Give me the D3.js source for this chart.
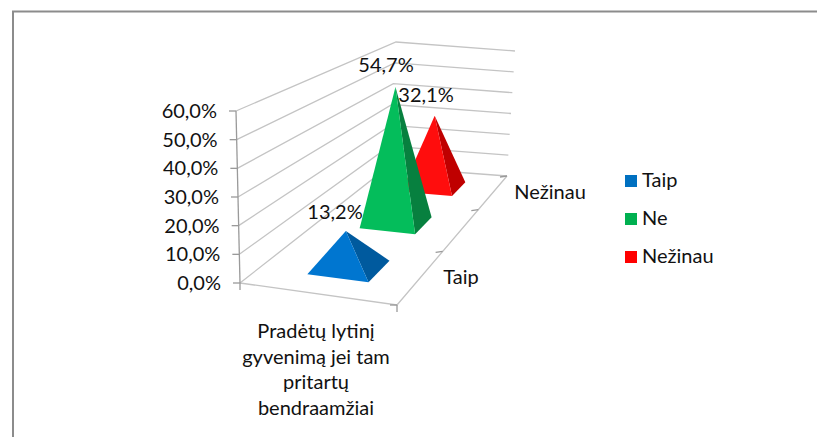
<!DOCTYPE html>
<html><head><meta charset="utf-8">
<script src="https://cdn.jsdelivr.net/npm/d3@7"></script>
<style>html,body{margin:0;background:#fff}svg{display:block}text{font-family:Lato,"Open Sans",sans-serif;fill:#111}</style>
</head><body><svg id="c" width="817" height="437"></svg>
<script>
const seriesNames = ["Taip","Ne","Nežinau"];
const seriesValues = [13.2,54.7,32.1];
const seriesLabels = ["13,2%","54,7%","32,1%"];
const seriesFront = ["#0076d0","#04bd5b","#ff0d0d"];
const seriesSide = ["#005a9e","#07803f","#bf0000"];
const legendColors = ["#0070c0","#00b050","#ff0000"];
const valueTicks = [0,10,20,30,40,50,60];
const depthLabels = ["Taip","Nežinau"];
const categoryLines = ["Pradėtų lytinį","gyvenimą jei tam","pritartų","bendraamžiai"];

const svg = d3.select("#c");
svg.append("path").attr("d","M13,437V11.5H817").attr("fill","none").attr("stroke","#8c8c8c").attr("stroke-width",2);

// Chart-box projection: floor corners found on the picture
const FL=[240,283],FR=[397,305],BR=[507,176],BL=[388,167];
function homography(p0,p1,p2,p3){
  const dx1=p1[0]-p2[0],dx2=p3[0]-p2[0],sx=p0[0]-p1[0]+p2[0]-p3[0];
  const dy1=p1[1]-p2[1],dy2=p3[1]-p2[1],sy=p0[1]-p1[1]+p2[1]-p3[1];
  const den=dx1*dy2-dx2*dy1;
  const g=(sx*dy2-dx2*sy)/den,h=(dx1*sy-sx*dy1)/den;
  const a=p1[0]-p0[0]+g*p1[0],b=p3[0]-p0[0]+h*p3[0],c=p0[0];
  const d=p1[1]-p0[1]+g*p1[1],e=p3[1]-p0[1]+h*p3[1],f=p0[1];
  return (u,v)=>{const w=g*u+h*v+1;return [(a*u+b*v+c)/w,(d*u+e*v+f)/w];};
}
const floor = homography(FL,FR,BR,BL);
const unit = d3.scaleLinear().domain([0,60]).range([0,1]);
const heightAt = d3.scaleLinear().domain([0,1]).range([172,125]);
const leanAt = d3.scaleLinear().domain([0,1]).range([-4,8]);
function proj(u,v,val){
  const p=floor(u,v),t=unit(val);
  return [p[0]+t*leanAt(v),p[1]-t*heightAt(v)];
}
const line=d3.line();
const grid=svg.append("g").attr("fill","none").attr("stroke","#c4c4c4").attr("stroke-width",1.3);
valueTicks.forEach(t=>{
  grid.append("path").attr("d",line([proj(0,0,t),proj(0,1,t),proj(1,1,t)]));
});
grid.append("path").attr("d",line([FL,FR,BR]));
const tick=svg.append("g").attr("fill","none").attr("stroke","#9a9a9a").attr("stroke-width",1.3);
tick.append("path").attr("d",line([proj(0,0,60),proj(0,0,0)]));
valueTicks.forEach(t=>{const p=proj(0,0,t);tick.append("path").attr("d",line([[p[0]-7,p[1]],p]));
  svg.append("text").attr("x",p[0]-19).attr("y",p[1]+7).attr("text-anchor","end").attr("font-size",20).text(d3.format(".1f")(t).replace(".",",")+"%");});
tick.append("path").attr("d",line([FL,[FL[0],FL[1]+7]]));
tick.append("path").attr("d",line([FR,[FR[0],FR[1]+7]]));
const depthBand=d3.scaleBand().domain(seriesNames).range([0,1]);
seriesNames.forEach(s=>{const v=depthBand(s)+depthBand.bandwidth();const p=floor(1,v);
  tick.append("path").attr("d",line([p,[p[0]-7,p[1]+1]]));});
tick.append("path").attr("d",line([FR,[FR[0]-7,FR[1]]]));

// pyramids, back to front
const halfU=0.2,halfV=0.07,uC=0.5325,uApex=0.515;
[2,1,0].forEach(i=>{
  const vC=depthBand(seriesNames[i])+depthBand.bandwidth()/2;
  const a=proj(uApex,vC,seriesValues[i]);
  const fl=floor(uC-halfU,vC-halfV),fr=floor(uC+halfU,vC-halfV),br=floor(uC+halfU,vC+halfV);
  svg.append("path").attr("d",line([a,fr,br])+"Z").attr("fill",seriesSide[i]);
  svg.append("path").attr("d",line([a,fl,fr])+"Z").attr("fill",seriesFront[i]);
});
const labelPos=[[335,219],[386,72],[426,102]];
seriesLabels.forEach((t,i)=>svg.append("text").attr("x",labelPos[i][0]).attr("y",labelPos[i][1]).attr("text-anchor","middle").attr("font-size",20).text(t));
svg.append("text").attr("x",461).attr("y",284).attr("text-anchor","middle").attr("font-size",20).text(depthLabels[0]);
svg.append("text").attr("x",550).attr("y",199).attr("text-anchor","middle").attr("font-size",20).text(depthLabels[1]);
categoryLines.forEach((t,i)=>svg.append("text").attr("x",316).attr("y",338+i*25.5).attr("text-anchor","middle").attr("font-size",20).text(t));
seriesNames.forEach((s,i)=>{
  const y=175+i*38;
  svg.append("rect").attr("x",625).attr("y",y).attr("width",12).attr("height",12).attr("fill",legendColors[i]);
  svg.append("text").attr("x",642).attr("y",y+12).attr("font-size",20).text(s);
});
</script></body></html>
